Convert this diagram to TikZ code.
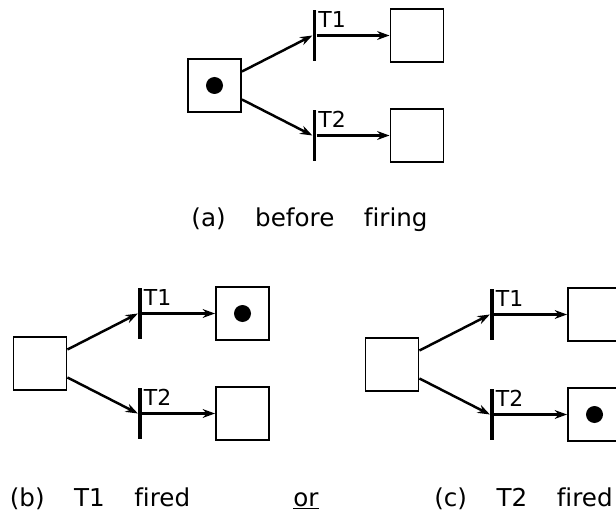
\documentclass[tikz,border=0pt]{standalone}
\usepackage{fontspec}
\setmainfont{DejaVu Sans}[Ligatures={TeX,NoCommon}]
\usetikzlibrary{arrows.meta, positioning}

\begin{document}
\begin{tikzpicture}[
  place/.style={rectangle, draw=black, line width=1.1pt, minimum size=1.06cm, inner sep=0pt},
  trans/.style={rectangle, fill=black, minimum width=2pt, minimum height=1.02cm, inner sep=0pt},
  tok/.style={circle, fill=black, minimum size=0.34cm, inner sep=0pt},
  arr/.style={-{Stealth[length=7pt, width=5pt]}, line width=1.4pt},
  lbl/.style={font=\fontsize{12.5}{14}\selectfont, inner sep=0pt},
  captxt/.style={font=\fontsize{14}{16}\selectfont, inner sep=0pt, anchor=base}
]
\useasboundingbox (0,0) rectangle (12.32,-10.28);
\clip (0,0) rectangle (12.32,-10.28);
% (a) before firing
\node[place] (srcA) at (4.29,-1.71) {};
\node[trans, on grid, above right=1cm and 2cm of srcA] (t1A) {};
\node[trans, on grid, below right=1cm and 2cm of srcA] (t2A) {};
\node[place, on grid, right=2.05cm of t1A] (p1A) {};
\node[place, on grid, right=2.05cm of t2A] (p2A) {};
\node[tok] (tokA) at (srcA) {};
% (b) T1 fired
\node[place] (srcB) at (0.80,-7.27) {};
\node[trans, on grid, above right=1cm and 2cm of srcB] (t1B) {};
\node[trans, on grid, below right=1cm and 2cm of srcB] (t2B) {};
\node[place, on grid, right=2.05cm of t1B] (p1B) {};
\node[place, on grid, right=2.05cm of t2B] (p2B) {};
\node[tok] (tokB) at (p1B) {};
% (c) T2 fired
\node[place] (srcC) at (7.84,-7.29) {};
\node[trans, on grid, above right=1cm and 2cm of srcC] (t1C) {};
\node[trans, on grid, below right=1cm and 2cm of srcC] (t2C) {};
\node[place, on grid, right=2.05cm of t1C] (p1C) {};
\node[place, on grid, right=2.05cm of t2C] (p2C) {};
\node[tok] (tokC) at (p2C) {};
\foreach \s in {A, B, C} {
  \draw[arr] (src\s.27) -- (t1\s.west);
  \draw[arr] (src\s.-27) -- (t2\s.west);
  \draw[arr] (t1\s.east) -- (p1\s.west);
  \draw[arr] (t2\s.east) -- (p2\s.west);
  \node[lbl, anchor=south west, above right=0.16cm and 0.07cm of t1\s.center] (l1\s) {T1};
  \node[lbl, anchor=south west, above right=0.16cm and 0.07cm of t2\s.center] (l2\s) {T2};
}
\node[captxt] (capA)  at (6.19,-4.52)  {(a)\hspace{1.2em}before\hspace{1.2em}firing};
\node[captxt] (capB)  at (2.00,-10.12) {(b)\hspace{1.2em}T1\hspace{1.2em}fired};
\node[captxt] (capOr) at (6.12,-10.12) {\underline{or}};
\node[captxt] (capC)  at (10.47,-10.12) {(c)\hspace{1.2em}T2\hspace{1.2em}fired};
\end{tikzpicture}
\end{document}
